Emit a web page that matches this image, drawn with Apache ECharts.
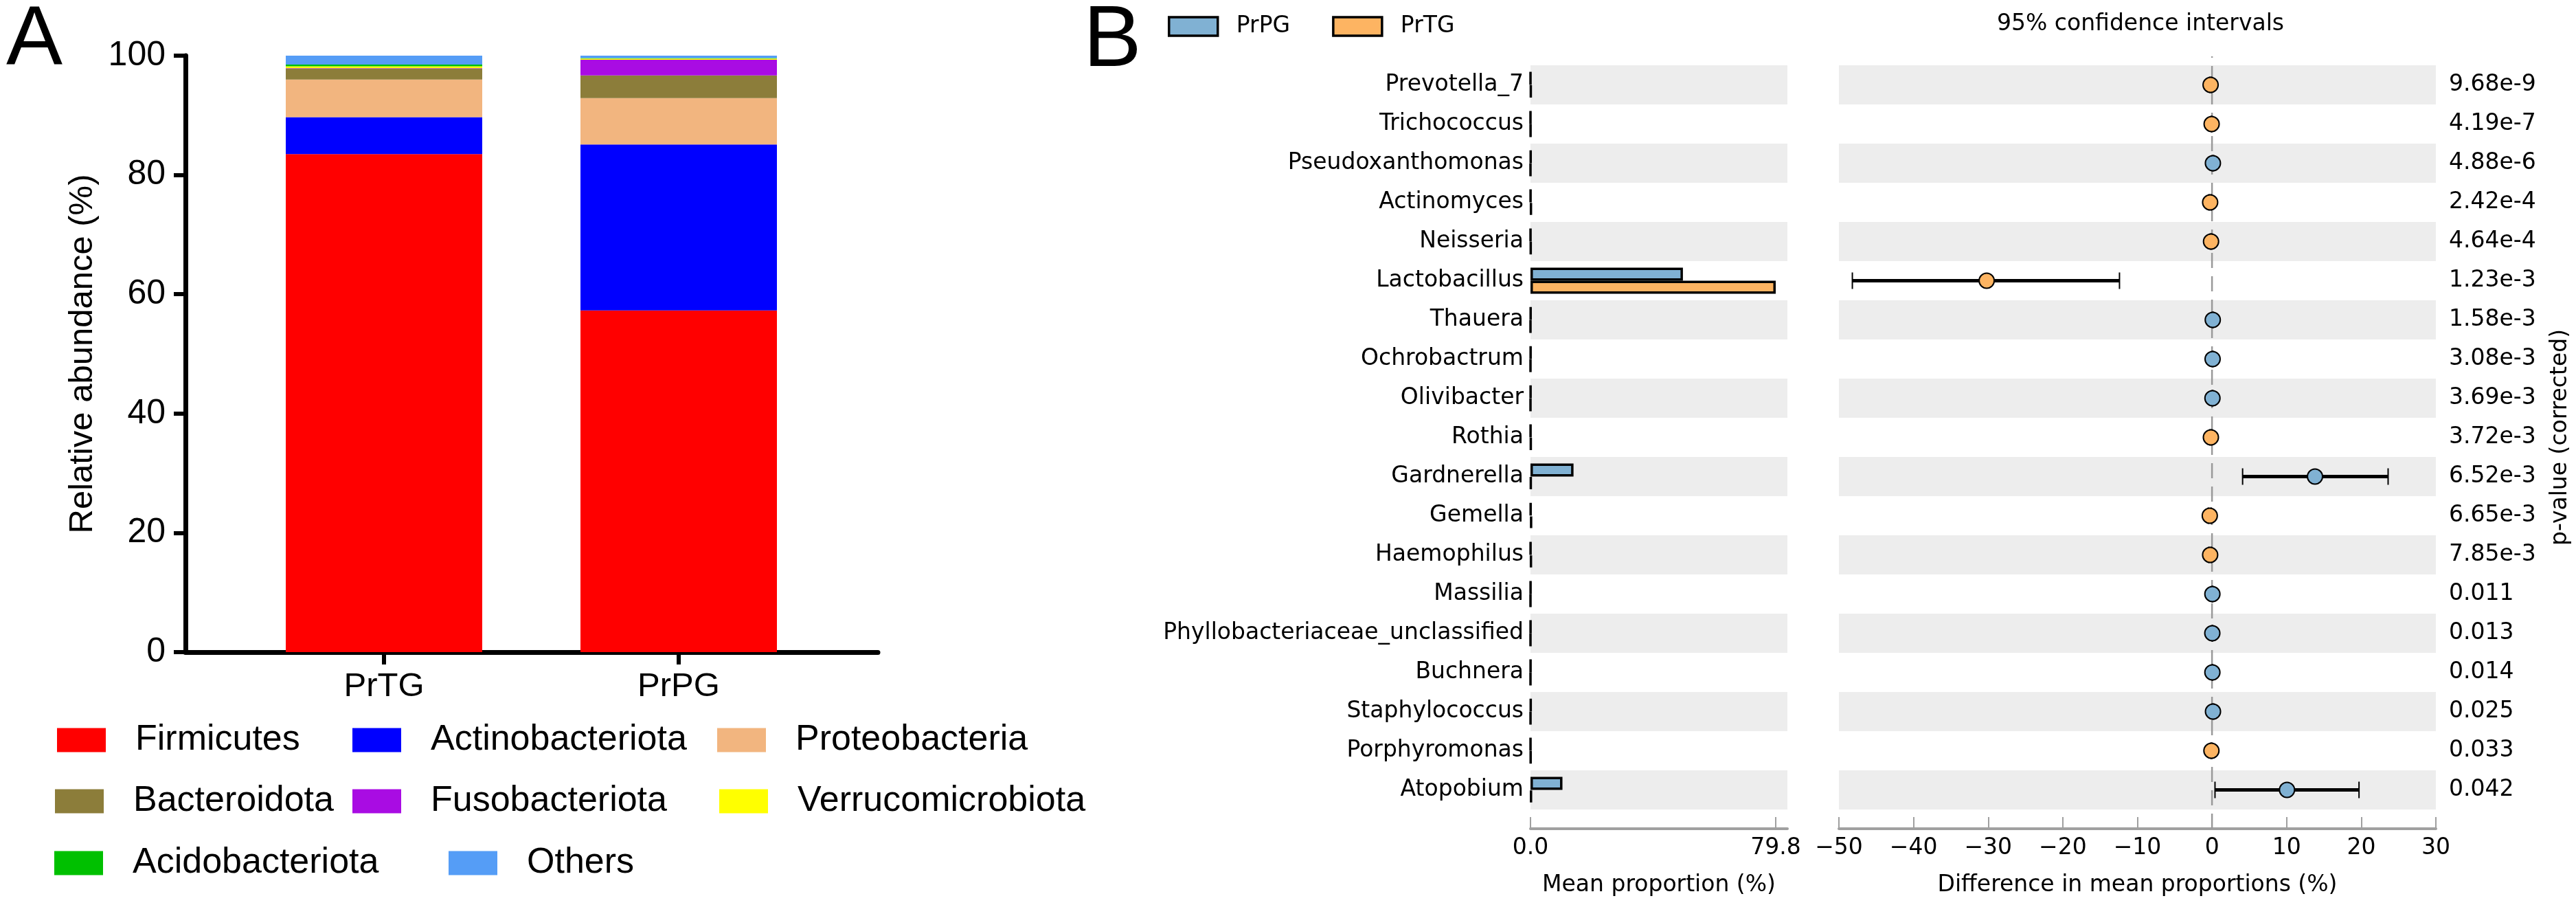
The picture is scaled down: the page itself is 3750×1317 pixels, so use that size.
<!DOCTYPE html>
<html>
<head>
<meta charset="utf-8">
<script src="https://cdn.jsdelivr.net/npm/echarts@6/dist/echarts.min.js"></script>
<style>html,body{margin:0;padding:0;background:#fff}#c{width:3750px;height:1317px}</style>
</head>
<body>
<div id="c"></div>
<script>
// ---------- Panel A data ----------
const groupsA = ['PrTG', 'PrPG'];
const phyla = ['Firmicutes', 'Actinobacteriota', 'Proteobacteria', 'Bacteroidota', 'Fusobacteriota', 'Verrucomicrobiota', 'Acidobacteriota', 'Others'];
const phylaColors = ['#FF0000', '#0000FF', '#F2B57F', '#8C7D3A', '#A90CE3', '#FFFF00', '#00C000', '#559DF6'];
const firmicutes = [83.5, 57.3];
const actinobacteriota = [6.2, 27.8];
const proteobacteria = [6.3, 7.8];
const bacteroidota = [1.8, 3.8];
const fusobacteriota = [0.1, 2.6];
const verrucomicrobiota = [0.3, 0.2];
const acidobacteriota = [0.3, 0.1];
const others = [1.5, 0.4];

// ---------- Panel B data ----------
const taxa = ['Prevotella_7', 'Trichococcus', 'Pseudoxanthomonas', 'Actinomyces', 'Neisseria', 'Lactobacillus', 'Thauera', 'Ochrobactrum', 'Olivibacter', 'Rothia', 'Gardnerella', 'Gemella', 'Haemophilus', 'Massilia', 'Phyllobacteriaceae_unclassified', 'Buchnera', 'Staphylococcus', 'Porphyromonas', 'Atopobium'];
const pValues = ['9.68e-9', '4.19e-7', '4.88e-6', '2.42e-4', '4.64e-4', '1.23e-3', '1.58e-3', '3.08e-3', '3.69e-3', '3.72e-3', '6.52e-3', '6.65e-3', '7.85e-3', '0.011', '0.013', '0.014', '0.025', '0.033', '0.042'];
const meanPrPG = [0.01, 0.0, 0.12, 0.05, 0.02, 49.6, 0.1, 0.08, 0.06, 0.05, 14.0, 0.1, 0.05, 0.05, 0.04, 0.05, 0.15, 0.02, 10.4];
const meanPrTG = [0.2, 0.05, 0.0, 0.3, 0.15, 79.8, 0.0, 0.0, 0.0, 0.2, 0.2, 0.4, 0.3, 0.0, 0.0, 0.0, 0.02, 0.1, 0.35];
const diffMean = [-0.19, -0.05, 0.12, -0.25, -0.13, -30.2, 0.1, 0.08, 0.06, -0.15, 13.8, -0.3, -0.25, 0.05, 0.04, 0.05, 0.13, -0.08, 10.05];
const ciLow = [-0.3, -0.09, 0.03, -0.4, -0.22, -48.2, 0.03, 0.02, 0.01, -0.27, 4.1, -0.5, -0.42, 0.01, 0.01, 0.01, 0.03, -0.15, 0.4];
const ciHigh = [-0.08, -0.01, 0.21, -0.1, -0.04, -12.4, 0.17, 0.14, 0.11, -0.03, 23.6, -0.1, -0.08, 0.09, 0.07, 0.09, 0.23, -0.01, 19.7];
const meanAxisMax = 79.8;
const diffTicks = [-50, 30, 10];
const zeroLine = [[0, 0], [0, 1]];

const BLUE = '#80B1D3', ORANGE = '#FDB462', GREY = '#A0A0A0', BAND = '#EDEDED';
const FA = 'Liberation Sans, Arial, sans-serif';
const FB = 'DejaVu Sans, sans-serif';

const chart = echarts.init(document.getElementById('c'), null, {renderer: 'canvas'});

const stackArrays = [firmicutes, actinobacteriota, proteobacteria, bacteroidota, fusobacteriota, verrucomicrobiota, acidobacteriota, others];
const seriesA = phyla.map((name, k) => ({
  name, type: 'bar', stack: 'A', xAxisIndex: 4, yAxisIndex: 5,
  barWidth: 286,
  itemStyle: {color: phylaColors[k]},
  data: stackArrays[k]
}));

// legends for panel A, one per item
const legPos = [
  [83, 1051], [513, 1051], [1044, 1051],
  [80, 1140], [513, 1140], [1047, 1140],
  [79, 1230], [653, 1230]
];
const legendsA = phyla.map((name, k) => ({
  data: [name], left: legPos[k][0], top: legPos[k][1], padding: 0,
  itemWidth: 71, itemHeight: 35, icon: 'rect', selectedMode: false,
  itemStyle: {borderWidth: 0},
  textStyle: {fontFamily: FA, fontSize: 52, color: '#000', padding: [0, 0, 0, 38], lineHeight: 35}
}));

const option = {
  animation: false,
  backgroundColor: '#fff',
  title: [
    {text: 'A', left: 4, top: -6, textStyle: {fontFamily: FA, fontSize: 123, fontWeight: 'normal', color: '#000'}},
    {text: 'B', left: 1572, top: -8, textStyle: {fontFamily: FA, fontSize: 127, fontWeight: 'normal', color: '#000'}},
    {text: '95% confidence intervals', left: 3111, textAlign: 'center', top: 14, textStyle: {fontFamily: FB, fontSize: 33, fontWeight: 'normal', color: '#000'}}
  ],
  legend: legendsA.concat([{
    data: ['PrPG', 'PrTG'], left: 1700, top: 22, padding: 0, itemGap: 61,
    itemWidth: 71, itemHeight: 27, icon: 'rect', selectedMode: false,
    itemStyle: {borderColor: '#000', borderWidth: 3.5},
    textStyle: {fontFamily: FB, fontSize: 33, color: '#000', padding: [0, 0, 0, 22]}
  }]),
  grid: [
    {left: 270, top: 81, width: 1008, height: 868},
    {left: 2228, top: 95, width: 374, height: 1083},
    {left: 2677, top: 95, width: 869, height: 1083},
    {left: 2677, top: 82, width: 869, height: 1124},
    {left: 344.5, top: 81, width: 858, height: 868}
  ],
  xAxis: [
    {
      gridIndex: 0, type: 'value', min: 0, max: 1,
      splitLine: {show: false}, axisTick: {show: false}, axisLabel: {show: false},
      axisLine: {show: true, lineStyle: {color: '#000', width: 7}}
    },
    {
      gridIndex: 1, type: 'value', min: 0, max: meanAxisMax * 374 / 357, offset: 28,
      splitLine: {show: false},
      axisLine: {show: true, lineStyle: {color: GREY, width: 4}},
      axisTick: {show: true, inside: true, customValues: [0, meanAxisMax], length: 17, lineStyle: {color: GREY, width: 2}},
      axisLabel: {customValues: [0, meanAxisMax], formatter: v => v.toFixed(1), fontFamily: FB, fontSize: 33, color: '#000', margin: 12},
      name: 'Mean proportion (%)', nameLocation: 'middle', nameGap: 66,
      nameTextStyle: {fontFamily: FB, fontSize: 33, color: '#000'}
    },
    {
      gridIndex: 2, type: 'value', min: diffTicks[0], max: diffTicks[1], interval: diffTicks[2], offset: 28,
      splitLine: {show: false},
      axisLine: {show: true, lineStyle: {color: GREY, width: 4}},
      axisTick: {show: true, inside: true, length: 17, lineStyle: {color: GREY, width: 2}},
      axisLabel: {formatter: v => String(v).replace('-', '\u2212'), fontFamily: FB, fontSize: 33, color: '#000', margin: 12},
      name: 'Difference in mean proportions (%)', nameLocation: 'middle', nameGap: 66,
      nameTextStyle: {fontFamily: FB, fontSize: 33, color: '#000'}
    },
    {gridIndex: 3, type: 'value', min: diffTicks[0], max: diffTicks[1], show: false},
    {
      gridIndex: 4, type: 'category', data: groupsA,
      axisLine: {show: false},
      axisTick: {show: true, alignWithLabel: true, length: 18, lineStyle: {color: '#000', width: 6}},
      axisLabel: {fontFamily: FA, fontSize: 49, color: '#000', margin: 26}
    }
  ],
  yAxis: [
    {
      gridIndex: 0, type: 'value', min: 0, max: 100, interval: 20,
      splitLine: {show: false},
      axisLine: {show: true, lineStyle: {color: '#000', width: 7}},
      axisTick: {show: true, length: 17, lineStyle: {color: '#000', width: 6}},
      axisLabel: {fontFamily: FA, fontSize: 50, color: '#000', margin: 29},
      name: 'Relative abundance (%)', nameLocation: 'middle', nameGap: 125,
      nameTextStyle: {fontFamily: FA, fontSize: 49, color: '#000'}
    },
    {
      gridIndex: 1, type: 'category', data: taxa, inverse: true,
      axisLine: {show: false}, axisTick: {show: false},
      splitArea: {show: true, areaStyle: {color: [BAND, 'rgba(255,255,255,0)']}},
      axisLabel: {fontFamily: FB, fontSize: 33, color: '#000', margin: 10}
    },
    {
      gridIndex: 2, type: 'category', data: taxa, inverse: true,
      axisLine: {show: false}, axisTick: {show: false}, axisLabel: {show: false},
      splitArea: {show: true, areaStyle: {color: [BAND, 'rgba(255,255,255,0)']}}
    },
    {
      gridIndex: 2, type: 'category', data: pValues, inverse: true, position: 'right',
      axisLine: {show: false}, axisTick: {show: false},
      axisLabel: {fontFamily: FB, fontSize: 33, color: '#000', margin: 19, align: 'left'},
      name: 'p-value (corrected)', nameLocation: 'middle', nameRotate: 90, nameGap: 165,
      nameTextStyle: {fontFamily: FB, fontSize: 33, color: '#000'}
    },
    {gridIndex: 3, type: 'value', min: 0, max: 1, show: false},
    {gridIndex: 4, type: 'value', min: 0, max: 100, show: false}
  ],
  series: seriesA.concat([
    {
      name: 'PrPG', type: 'bar', xAxisIndex: 1, yAxisIndex: 1, barWidth: 19, barGap: '0%',
      itemStyle: {color: BLUE, borderColor: '#000', borderWidth: 3.5},
      data: meanPrPG
    },
    {
      name: 'PrTG', type: 'bar', xAxisIndex: 1, yAxisIndex: 1, barWidth: 19, barGap: '0%',
      itemStyle: {color: ORANGE, borderColor: '#000', borderWidth: 3.5},
      data: meanPrTG
    },
    {
      type: 'line', xAxisIndex: 3, yAxisIndex: 4, data: zeroLine, symbol: 'none', z: 2,
      lineStyle: {color: '#999', width: 2.5, type: [22, 12]}, silent: true
    },
    {
      type: 'custom', xAxisIndex: 2, yAxisIndex: 2, z: 3,
      encode: {x: [0, 1], y: 2},
      data: taxa.map((t, i) => [ciLow[i], ciHigh[i], i]),
      renderItem: (params, api) => {
        const lo = api.coord([api.value(0), api.value(2)]);
        const hi = api.coord([api.value(1), api.value(2)]);
        const h = 24;
        return {type: 'group', children: [
          {type: 'line', shape: {x1: lo[0], y1: lo[1], x2: hi[0], y2: hi[1]}, style: {stroke: '#000', lineWidth: 5}},
          {type: 'line', shape: {x1: lo[0], y1: lo[1] - h / 2, x2: lo[0], y2: lo[1] + h / 2}, style: {stroke: '#000', lineWidth: 2}},
          {type: 'line', shape: {x1: hi[0], y1: hi[1] - h / 2, x2: hi[0], y2: hi[1] + h / 2}, style: {stroke: '#000', lineWidth: 2}}
        ]};
      }
    },
    {
      type: 'scatter', xAxisIndex: 2, yAxisIndex: 2, z: 4, symbolSize: 22,
      data: taxa.map((t, i) => [diffMean[i], i]),
      itemStyle: {color: p => (p.value[0] < 0 ? ORANGE : BLUE), borderColor: '#000', borderWidth: 2, opacity: 1}
    }
  ])
};
chart.setOption(option);
</script>
</body>
</html>
